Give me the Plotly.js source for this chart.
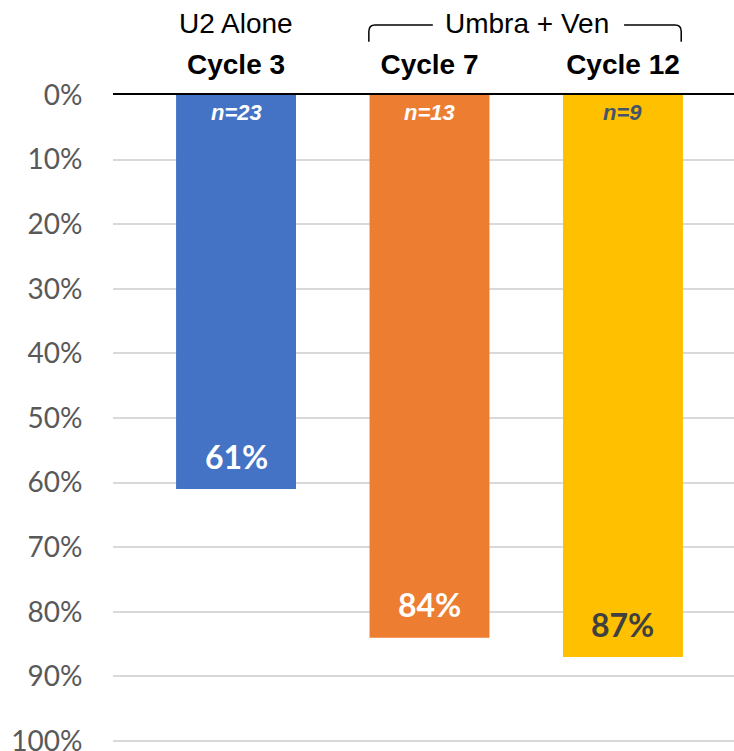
<!DOCTYPE html>
<html>
<head>
<meta charset="utf-8">
<script src="https://cdn.plot.ly/plotly-3.0.1.min.js"></script>
<style>
  html, body { margin: 0; padding: 0; background: #fff; }
  #plot { width: 734px; height: 751px; }
</style>
</head>
<body>
<div id="plot"></div>
<script>
// response rates by cycle
var cycles = ['Cycle 3', 'Cycle 7', 'Cycle 12'];
var rates = [0.61, 0.84, 0.87];
var nCounts = [23, 13, 9];
var barColors = ['#4472C4', '#ED7D31', '#FFC000'];
var labelColors = ['#FFFFFF', '#FFFFFF', '#404040'];
var nColors = ['#FFFFFF', '#FFFFFF', '#44546A'];
var yTicks = [0, 0.1, 0.2, 0.3, 0.4, 0.5, 0.6, 0.7, 0.8, 0.9, 1.0];

var xs = cycles.map(function (c, i) { return i; });

var bars = {
    x: xs,
    y: rates,
    type: 'bar',
    width: 0.62,
    marker: {color: barColors},
    hoverinfo: 'skip'
};

var annotations = [];
rates.forEach(function (v, i) {
    annotations.push({
        x: i, y: v - 0.051, xref: 'x', yref: 'y',
        text: '<b>' + Math.round(v * 100) + '%</b>',
        showarrow: false,
        font: {family: 'Lato, sans-serif', size: 32, color: labelColors[i]}
    });
    annotations.push({
        x: i, y: 0.027, xref: 'x', yref: 'y',
        text: '<b><i>n=' + nCounts[i] + '</i></b>',
        showarrow: false,
        font: {family: 'Liberation Sans, Arial, sans-serif', size: 22, color: nColors[i]}
    });
});

// group headers above the category labels
annotations.push({
    x: 0, y: 1.111, xref: 'x', yref: 'paper',
    text: 'U2 Alone', showarrow: false, xanchor: 'center', yanchor: 'middle',
    font: {family: 'Liberation Sans, Arial, sans-serif', size: 28, color: '#000'}
});
annotations.push({
    x: 0.667, y: 1.111, xref: 'paper', yref: 'paper',
    text: 'Umbra + Ven', showarrow: false, xanchor: 'center', yanchor: 'middle',
    font: {family: 'Liberation Sans, Arial, sans-serif', size: 28, color: '#000'}
});

var shapes = [
    {type: 'path', xref: 'paper', yref: 'paper',
     path: 'M0.412,1.082 L0.412,1.098 Q0.412,1.108 0.422,1.108 L0.515,1.108',
     line: {color: '#000', width: 1.5}},
    {type: 'path', xref: 'paper', yref: 'paper',
     path: 'M0.823,1.108 L0.905,1.108 Q0.915,1.108 0.915,1.098 L0.915,1.082',
     line: {color: '#000', width: 1.5}}
];

var layout = {
    width: 734,
    height: 751,
    margin: {l: 113, r: 0, t: 95, b: 8},
    paper_bgcolor: '#fff',
    plot_bgcolor: '#fff',
    showlegend: false,
    xaxis: {
        side: 'top',
        range: [-0.636, 2.574],
        tickvals: xs,
        ticktext: cycles.map(function (c) { return '<b>' + c + '</b>'; }),
        tickfont: {family: 'Liberation Sans, Arial, sans-serif', size: 28, color: '#000'},
        ticks: 'outside',
        ticklen: 8,
        tickcolor: 'rgba(0,0,0,0)',
        showgrid: false,
        showline: true,
        linecolor: '#000',
        linewidth: 2,
        zeroline: false
    },
    yaxis: {
        range: [1.003, 0],
        tickvals: yTicks,
        tickformat: '.0%',
        tickfont: {family: 'Lato, sans-serif', size: 28, color: '#595959'},
        ticks: 'outside',
        ticklen: 24,
        tickcolor: 'rgba(0,0,0,0)',
        ticklabeloverflow: 'allow',
        showgrid: true,
        gridcolor: '#D9D9D9',
        gridwidth: 2,
        zeroline: false,
        showline: false
    },
    annotations: annotations,
    shapes: shapes
};

Plotly.newPlot('plot', [bars], layout, {displayModeBar: false});
</script>
</body>
</html>
